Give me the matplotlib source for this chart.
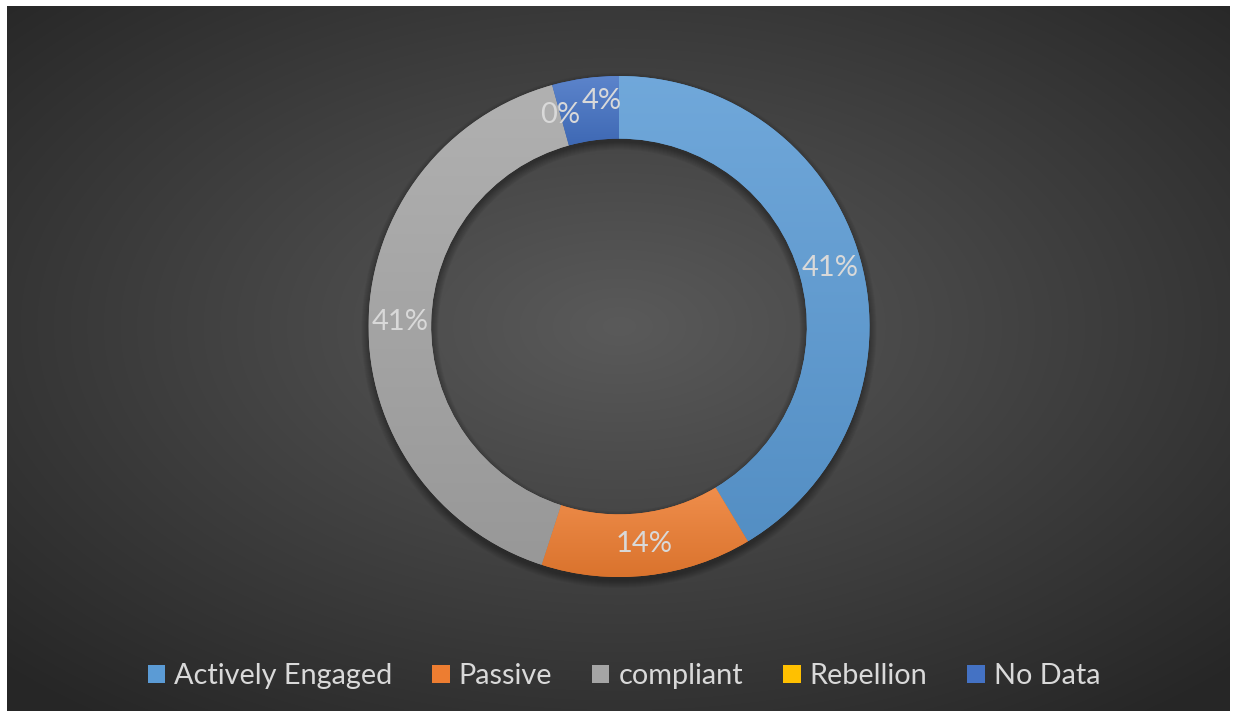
import numpy as np
import matplotlib
matplotlib.use("Agg")
import matplotlib.pyplot as plt
from matplotlib.patches import Wedge, Patch
import matplotlib.colors as mcolors

# ---- data ----
categories = ["Actively Engaged", "Passive", "compliant", "Rebellion", "No Data"]
shares = [41.4, 13.6, 40.7, 0.0, 4.3]
colors = ["#5B9BD5", "#ED7D31", "#A5A5A5", "#FFC000", "#4472C4"]

FONT = "Lato"
TXT = "#D9D9D9"
W, H = 1235, 713
fig = plt.figure(figsize=(W / 100, H / 100), dpi=100, facecolor="white")

# ---- background with radial gradient ----
bg = fig.add_axes([7 / W, 2 / H, 1223 / W, 705 / H])
ny, nx = 705, 1223
yy, xx = np.mgrid[0:ny, 0:nx]
cx, cy = 612, 320
d = np.sqrt(((xx - cx) / (nx / 2)) ** 2 + ((yy - cy) / (ny / 2)) ** 2) / np.sqrt(2)
d = np.clip(d, 0, 1)
c0 = np.array([0x5a] * 3) / 255
c1 = np.array([0x26] * 3) / 255
img = c0[None, None, :] * (1 - d[..., None]) + c1[None, None, :] * d[..., None]
bg.imshow(img, aspect="auto", extent=[0, 1, 0, 1])
bg.set_xlim(0, 1)
bg.set_ylim(0, 1)
bg.axis("off")

# ---- donut ----
ax = fig.add_axes([368.5 / W, 136 / H, 501 / W, 501 / H])
ax.patch.set_visible(False)
ring_w = 0.25
wedges, _ = ax.pie(shares, colors=colors, startangle=90, counterclock=False,
                   radius=1, wedgeprops=dict(width=ring_w, linewidth=0))
ax.set_xlim(-1, 1)
ax.set_ylim(-1, 1)
ax.axis("off")

# shadow
off = 4 / 250.5
for k in range(8):
    e = k * 0.004
    sh = Wedge((0, -off), 1 + e, 0, 360, width=ring_w + 2 * e, facecolor="black",
               alpha=0.045, linewidth=0, zorder=0.5, clip_on=False)
    ax.add_patch(sh)


def mix(c, other, t):
    a = np.array(mcolors.to_rgb(c))
    b = np.array(mcolors.to_rgb(other))
    return a * (1 - t) + b * t


for w, c, v in zip(wedges, colors, shares):
    if v <= 0:
        continue
    w.set_zorder(1)
    ext = w.get_path().get_extents()
    top = mix(c, "white", 0.13)
    bot = mix(c, "black", 0.08)
    n = 200
    t = np.linspace(0, 1, n)[:, None, None]
    grad = top[None, None, :] * (1 - t) + bot[None, None, :] * t
    im = ax.imshow(grad, aspect="auto", extent=[ext.x0, ext.x1, ext.y0, ext.y1],
                   zorder=1.5)
    im.set_clip_path(w)
ax.set_xlim(-1, 1)
ax.set_ylim(-1, 1)

# labels
label_offsets = [(0, 0), (0, 0), (0, 0), (0, 0), (12, 8)]
total = sum(shares)
cum = 0.0
r_mid = 1 - ring_w / 2
for i, v in enumerate(shares):
    frac = v / total
    mid = 90 - 360 * (cum + frac / 2)
    cum += frac
    x, y = r_mid * np.cos(np.radians(mid)), r_mid * np.sin(np.radians(mid))
    ax.annotate(f"{round(100 * frac):.0f}%", (x, y), xytext=label_offsets[i],
                textcoords="offset pixels", ha="center", va="center",
                color=TXT, fontsize=21, family=FONT, zorder=5)

# legend
handles = [Patch(facecolor=c, edgecolor="none") for c in colors]
fig.legend(handles, categories, loc="center", bbox_to_anchor=(624 / W, 1 - 676 / H),
           ncol=5, frameon=False, prop={"family": FONT, "size": 20.8},
           handlelength=0.6, handleheight=0.6, handletextpad=0.32,
           columnspacing=1.38, labelcolor=TXT, borderaxespad=0, borderpad=0)

fig.savefig("out.png", dpi=100, facecolor="white")
